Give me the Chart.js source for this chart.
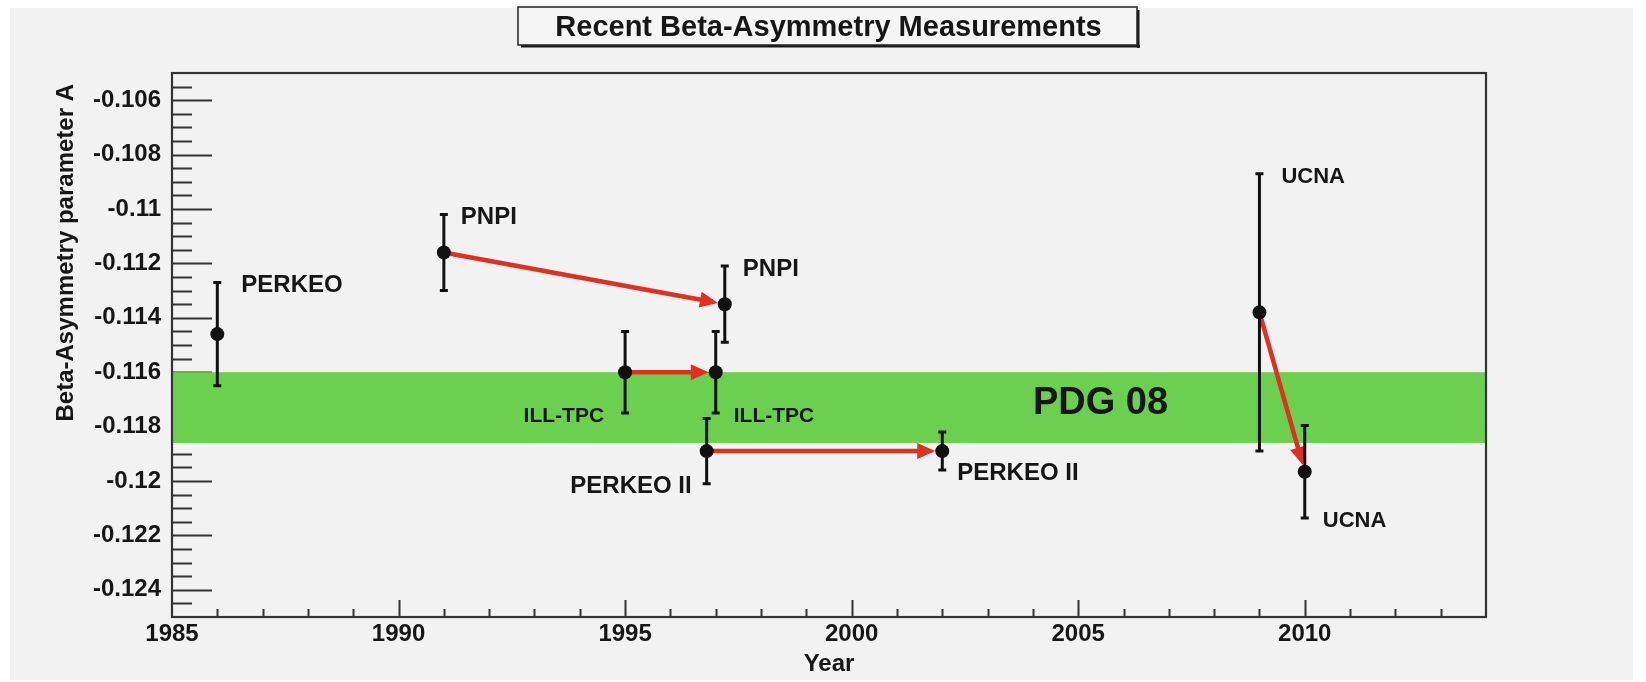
<!DOCTYPE html>
<html>
<head>
<meta charset="utf-8">
<title>Recent Beta-Asymmetry Measurements</title>
<script src="https://cdn.jsdelivr.net/npm/chart.js@4.4.1/dist/chart.umd.min.js"></script>
<style>
  html, body { margin: 0; padding: 0; background: #ffffff; }
  #wrap { width: 1646px; height: 682px; position: relative; }
</style>
</head>
<body>
<div id="wrap"><canvas id="chart"></canvas></div>
<script>
// Neutron beta-asymmetry results: experiment, year of publication, A and its uncertainty
const experiments = ['PERKEO', 'PNPI', 'PNPI', 'ILL-TPC', 'ILL-TPC', 'PERKEO II', 'PERKEO II', 'UCNA', 'UCNA'];
const years       = [1986, 1991, 1997.2, 1995, 1997, 1996.8, 2002, 2009, 2010];
const asymmetry   = [-0.1146, -0.1116, -0.1135, -0.1160, -0.1160, -0.1189, -0.1189, -0.1138, -0.11966];
const uncertainty = [0.0019, 0.0014, 0.0014, 0.0015, 0.0015, 0.0012, 0.0007, 0.0051, 0.0017];

// each pair links an earlier result to the revised one from the same group
const revisions = [[1, 2], [3, 4], [5, 6], [7, 8]];

// PDG 2008 world average
const pdgLabel = 'PDG 08';
const pdgValue = -0.1173;
const pdgError = 0.0013;

const xTicks      = [1985, 1990, 1995, 2000, 2005, 2010];
const xTickLabels = ['1985', '1990', '1995', '2000', '2005', '2010'];
const yTicks      = [-0.124, -0.122, -0.120, -0.118, -0.116, -0.114, -0.112, -0.110, -0.108, -0.106];
const yTickLabels = ['-0.124', '-0.122', '-0.12', '-0.118', '-0.116', '-0.114', '-0.112', '-0.11', '-0.108', '-0.106'];

// where each experiment name sits: next to the upper ('hi') or lower ('lo') end of its error bar
const labelLayout = [
  { end: 'hi', dx: 24,  align: 'left',  size: 24 },
  { end: 'hi', dx: 17,  align: 'left',  size: 24 },
  { end: 'hi', dx: 18,  align: 'left',  size: 24 },
  { end: 'lo', dx: -21, align: 'right', size: 21 },
  { end: 'lo', dx: 18,  align: 'left',  size: 21 },
  { end: 'lo', dx: -15, align: 'right', size: 24 },
  { end: 'lo', dx: 15,  align: 'left',  size: 24 },
  { end: 'hi', dx: 22,  align: 'left',  size: 22 },
  { end: 'lo', dx: 18,  align: 'left',  size: 22 }
];
const pdgLabelYear = 2004.0;

const FONT = '"Liberation Sans", Arial, Helvetica, sans-serif';
const INK = '#161616';
const FRAME = '#333333';
const BAND = '#6bd04f';
const ARROW = '#e0301f';

function drawArrow(ctx, x0, y0, x1, y1) {
  const ang = Math.atan2(y1 - y0, x1 - x0);
  const c = Math.cos(ang), s = Math.sin(ang);
  const tipX = x1 - c * 7, tipY = y1 - s * 7;
  const headL = 18, headW = 8;
  const bx = tipX - c * headL, by = tipY - s * headL;
  ctx.strokeStyle = ARROW;
  ctx.lineWidth = 4.5;
  ctx.lineCap = 'butt';
  ctx.beginPath();
  ctx.moveTo(x0, y0);
  ctx.lineTo(bx + c * 2, by + s * 2);
  ctx.stroke();
  ctx.fillStyle = ARROW;
  ctx.beginPath();
  ctx.moveTo(tipX, tipY);
  ctx.lineTo(bx - s * headW, by + c * headW);
  ctx.lineTo(bx + s * headW, by - c * headW);
  ctx.closePath();
  ctx.fill();
}

const decorations = {
  id: 'decorations',
  beforeDraw(chart) {
    const { ctx, width, height } = chart;
    ctx.save();
    ctx.fillStyle = '#ffffff';
    ctx.fillRect(0, 0, width, height);
    ctx.fillStyle = '#f2f2f2';
    ctx.fillRect(10, 8, 1623, 672);
    ctx.restore();
  },
  beforeDatasetsDraw(chart) {
    const { ctx, chartArea: a, scales: { x, y } } = chart;
    ctx.save();

    // tick marks pointing into the frame
    ctx.strokeStyle = FRAME;
    ctx.lineWidth = 2;
    ctx.beginPath();
    for (let i = 1; i < 40; i++) {
      const v = -0.125 + i * 0.0005;
      const py = Math.round(y.getPixelForValue(v)) + 0.5;
      const len = ((i - 2) % 4 === 0) ? 40 : 20;
      ctx.moveTo(a.left, py);
      ctx.lineTo(a.left + len, py);
    }
    for (let yr = 1986; yr <= 2013; yr++) {
      const px = Math.round(x.getPixelForValue(yr)) + 0.5;
      const len = (yr % 5 === 0) ? 17 : 8;
      ctx.moveTo(px, a.bottom);
      ctx.lineTo(px, a.bottom - len);
    }
    ctx.stroke();

    // PDG 08 band
    const bandTop = y.getPixelForValue(pdgValue + pdgError);
    const bandBot = y.getPixelForValue(pdgValue - pdgError);
    ctx.fillStyle = BAND;
    ctx.fillRect(a.left, bandTop, a.right - a.left, bandBot - bandTop);

    // frame
    ctx.strokeStyle = FRAME;
    ctx.lineWidth = 2.2;
    ctx.strokeRect(a.left, a.top, a.right - a.left, a.bottom - a.top);

    // arrows from earlier to revised results
    revisions.forEach(([from, to]) => {
      drawArrow(ctx,
        x.getPixelForValue(years[from]), y.getPixelForValue(asymmetry[from]),
        x.getPixelForValue(years[to]), y.getPixelForValue(asymmetry[to]));
    });

    // error bars
    ctx.strokeStyle = '#111111';
    ctx.lineWidth = 3;
    years.forEach((yr, i) => {
      const px = x.getPixelForValue(yr);
      const hi = y.getPixelForValue(asymmetry[i] + uncertainty[i]);
      const lo = y.getPixelForValue(asymmetry[i] - uncertainty[i]);
      ctx.beginPath();
      ctx.moveTo(px, hi);
      ctx.lineTo(px, lo);
      ctx.moveTo(px - 4, hi);
      ctx.lineTo(px + 4, hi);
      ctx.moveTo(px - 4, lo);
      ctx.lineTo(px + 4, lo);
      ctx.stroke();
    });
    ctx.restore();
  },
  afterDatasetsDraw(chart) {
    const { ctx, chartArea: a, scales: { x, y } } = chart;
    ctx.save();
    ctx.fillStyle = INK;
    ctx.textBaseline = 'middle';

    // experiment names
    experiments.forEach((name, i) => {
      const L = labelLayout[i];
      const v = L.end === 'hi' ? asymmetry[i] + uncertainty[i] : asymmetry[i] - uncertainty[i];
      ctx.font = 'bold ' + L.size + 'px ' + FONT;
      ctx.textAlign = L.align;
      ctx.fillText(name, x.getPixelForValue(years[i]) + L.dx, y.getPixelForValue(v) + 3);
    });

    // band label
    ctx.font = 'bold 38px ' + FONT;
    ctx.textAlign = 'left';
    ctx.fillText(pdgLabel, x.getPixelForValue(pdgLabelYear), y.getPixelForValue(pdgValue) - 4);

    // axis titles
    ctx.font = 'bold 24px ' + FONT;
    ctx.textAlign = 'center';
    ctx.textBaseline = 'alphabetic';
    ctx.fillText('Year', (a.left + a.right) / 2, 671);
    ctx.save();
    ctx.translate(72.5, 84);
    ctx.rotate(-Math.PI / 2);
    ctx.textAlign = 'right';
    ctx.fillText('Beta-Asymmetry parameter A', 0, 0);
    ctx.restore();

    // boxed title
    const bx0 = 518, by0 = 7, bx1 = 1137, by1 = 45;
    ctx.fillStyle = '#f5f5f5';
    ctx.fillRect(bx0, by0, bx1 - bx0, by1 - by0);
    ctx.fillStyle = '#1a1a1a';
    ctx.fillRect(bx0 + 3, by1, bx1 - bx0, 2.5);
    ctx.fillRect(bx1, by0 + 3, 2.5, by1 - by0);
    ctx.strokeStyle = '#222222';
    ctx.lineWidth = 1.5;
    ctx.strokeRect(bx0, by0, bx1 - bx0, by1 - by0);
    ctx.fillStyle = INK;
    ctx.font = 'bold 29px ' + FONT;
    ctx.textAlign = 'center';
    ctx.fillText('Recent Beta-Asymmetry Measurements', (bx0 + bx1) / 2 + 1, 36);
    ctx.restore();
  }
};

const tickFont = { family: FONT, size: 24, weight: 'bold' };

new Chart(document.getElementById('chart'), {
  type: 'scatter',
  data: {
    datasets: [{
      label: 'Beta asymmetry A',
      data: years.map((yr, i) => ({ x: yr, y: asymmetry[i] })),
      pointRadius: 7,
      pointHoverRadius: 7,
      pointBackgroundColor: '#111111',
      pointBorderWidth: 0,
      showLine: false
    }]
  },
  options: {
    responsive: true,
    maintainAspectRatio: false,
    animation: false,
    layout: { padding: { left: 0, top: 73, right: 160, bottom: 0 } },
    plugins: {
      legend: { display: false },
      tooltip: { enabled: false },
      title: { display: false }
    },
    scales: {
      x: {
        type: 'linear',
        position: 'bottom',
        min: 1985,
        max: 2014,
        afterBuildTicks: (s) => { s.ticks = xTicks.map(v => ({ value: v })); },
        afterFit: (s) => { s.height = 65; },
        ticks: {
          callback: (v, i) => xTickLabels[i],
          font: tickFont,
          color: INK,
          padding: 3,
          maxRotation: 0,
          autoSkip: false
        },
        grid: { display: false, drawTicks: false },
        border: { display: false }
      },
      y: {
        type: 'linear',
        position: 'left',
        min: -0.125,
        max: -0.105,
        afterBuildTicks: (s) => { s.ticks = yTicks.map(v => ({ value: v })); },
        afterFit: (s) => { s.width = 172; },
        ticks: {
          callback: (v, i) => yTickLabels[i],
          font: tickFont,
          color: INK,
          padding: 11,
          autoSkip: false
        },
        grid: { display: false, drawTicks: false },
        border: { display: false }
      }
    }
  },
  plugins: [decorations]
});
</script>
</body>
</html>
